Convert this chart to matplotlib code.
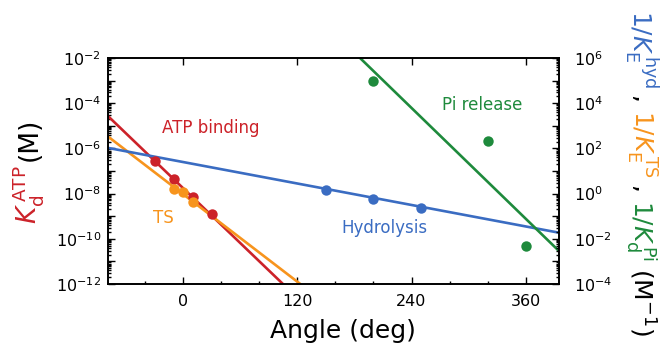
import numpy as np
import matplotlib
matplotlib.use("Agg")
import matplotlib.pyplot as plt
from matplotlib.ticker import LogLocator, FuncFormatter, MultipleLocator, NullFormatter

# ---- data ----
# left axis: Kd(ATP) in M
atp_angle = [-30, -10, 10, 30]
atp_kd = [2.75e-7, 4.5e-8, 6.9e-9, 1.2e-9]
atp_fit_angle = [-80, 110]
atp_fit = [2.95e-5, 6.2e-13]

# right axis: 1/K in M^-1
ts_angle = [-10, 0, 10]
ts_k = [1.55, 1.2, 0.44]
ts_fit_angle = [-80, 130]
ts_fit = [3.6e2, 6.0e-5]

hyd_angle = [150, 200, 250]
hyd_k = [1.45, 0.56, 0.24]
hyd_fit_angle = [-80, 400]
hyd_fit = [107.0, 0.017]

pi_angle = [200, 320, 360]
pi_k = [1.0e5, 214.0, 0.005]
pi_fit_angle = [180, 400]
pi_fit = [1.74e6, 1.8e-3]

x_ticks = [0, 120, 240, 360]

red = "#cc2229"
orange = "#f7941d"
blue = "#3a6cc2"
green = "#1e8a3c"

# right axis is the left one shifted by 8 decades
R2L = 1e-8

W, H = 662, 352
fig = plt.figure(figsize=(W / 100, H / 100), dpi=100)
ax = fig.add_axes([108 / W, 68 / H, 451 / W, 226 / H])

lw = 1.9
ax.plot(atp_fit_angle, atp_fit, color=red, lw=lw, zorder=2)
ax.plot(ts_fit_angle, np.array(ts_fit) * R2L, color=orange, lw=lw, zorder=2)
ax.plot(hyd_fit_angle, np.array(hyd_fit) * R2L, color=blue, lw=lw, zorder=2)
ax.plot(pi_fit_angle, np.array(pi_fit) * R2L, color=green, lw=lw, zorder=2)

ms = 7.5
ax.plot(atp_angle, atp_kd, "o", color=red, ms=ms, mec="none", zorder=3)
ax.plot(ts_angle, np.array(ts_k) * R2L, "o", color=orange, ms=ms, mec="none", zorder=4)
ax.plot(hyd_angle, np.array(hyd_k) * R2L, "o", color=blue, ms=ms, mec="none", zorder=3)
ax.plot(pi_angle, np.array(pi_k) * R2L, "o", color=green, ms=ms, mec="none", zorder=3)

ax.set_yscale("log")
ax.set_xlim(-79, 395)
ax.set_ylim(1e-12, 1e-2)

ax.xaxis.set_minor_locator(MultipleLocator(40))
ax.set_xticks(x_ticks)

def even_only(v, pos):
    e = int(round(np.log10(v)))
    return r"$10^{%d}$" % e if e % 2 == 0 else ""

ax.yaxis.set_major_locator(LogLocator(base=10, numticks=20))
ax.yaxis.set_minor_locator(LogLocator(base=10, subs=np.arange(2, 10), numticks=20))
ax.yaxis.set_major_formatter(FuncFormatter(even_only))
ax.yaxis.set_minor_formatter(NullFormatter())
ax.tick_params(axis="both", which="both", direction="in", labelsize=11.5, width=1.0)
ax.tick_params(axis="both", which="major", length=5)
ax.tick_params(axis="both", which="minor", length=2.5)
ax.tick_params(axis="x", top=True, pad=7)
ax.tick_params(axis="y", right=False, pad=5)

ax2 = ax.twinx()
ax2.set_yscale("log")
ax2.set_ylim(1e-4, 1e6)
ax2.yaxis.set_major_locator(LogLocator(base=10, numticks=20))
ax2.yaxis.set_minor_locator(LogLocator(base=10, subs=np.arange(2, 10), numticks=20))
ax2.yaxis.set_major_formatter(FuncFormatter(even_only))
ax2.yaxis.set_minor_formatter(NullFormatter())
ax2.tick_params(axis="y", which="both", direction="in", labelsize=11.5, width=1.0, pad=11)
ax2.tick_params(axis="y", which="major", length=5)
ax2.tick_params(axis="y", which="minor", length=2.5)

for a in (ax, ax2):
    for s in a.spines.values():
        s.set_linewidth(1.2)

ax.set_xlabel("Angle (deg)", fontsize=18)
ax.xaxis.set_label_coords(0.52, -0.155)

ax.text(29, 10**-5.1, "ATP binding", color=red, fontsize=12, ha="center", va="center")
ax.text(-21, 10**-9.08, "TS", color=orange, fontsize=12, ha="center", va="center")
ax.text(212, 10**-9.52, "Hydrolysis", color=blue, fontsize=12, ha="center", va="center")
ax.text(314, 10**-4.08, "Pi release", color=green, fontsize=12, ha="center", va="center")


def stacked_label(x, y, pieces, rotation, size, gap):
    # pieces laid end to end along a rotated baseline, x/y in pixels
    r = fig.canvas.get_renderer()
    for txt, col in pieces:
        t = fig.text(x / W, y / H, txt, color=col, fontsize=size, rotation=rotation,
                     rotation_mode="anchor", ha="left", va="baseline")
        bb = t.get_window_extent(renderer=r)
        y = bb.y1 + gap if rotation == 90 else bb.y0 - gap


stacked_label(37, 352 - 224, [(r"$K_\mathrm{d}^{\,\mathrm{ATP}}$", red),
                              (r"(M)", "black")], 90, 19, 4)
stacked_label(633, 352 - 10, [(r"$1/K_\mathrm{E}^{\,\mathrm{hyd}}$", blue),
                              (",", "black"),
                              (r"$1/K_\mathrm{E}^{\,\mathrm{TS}}$", orange),
                              (",", "black"),
                              (r"$1/K_\mathrm{d}^{\,\mathrm{Pi}}$", green),
                              (r"(M$^{-1}$)", "black")], 270, 18, 7)

fig.savefig("out.png", dpi=100)
